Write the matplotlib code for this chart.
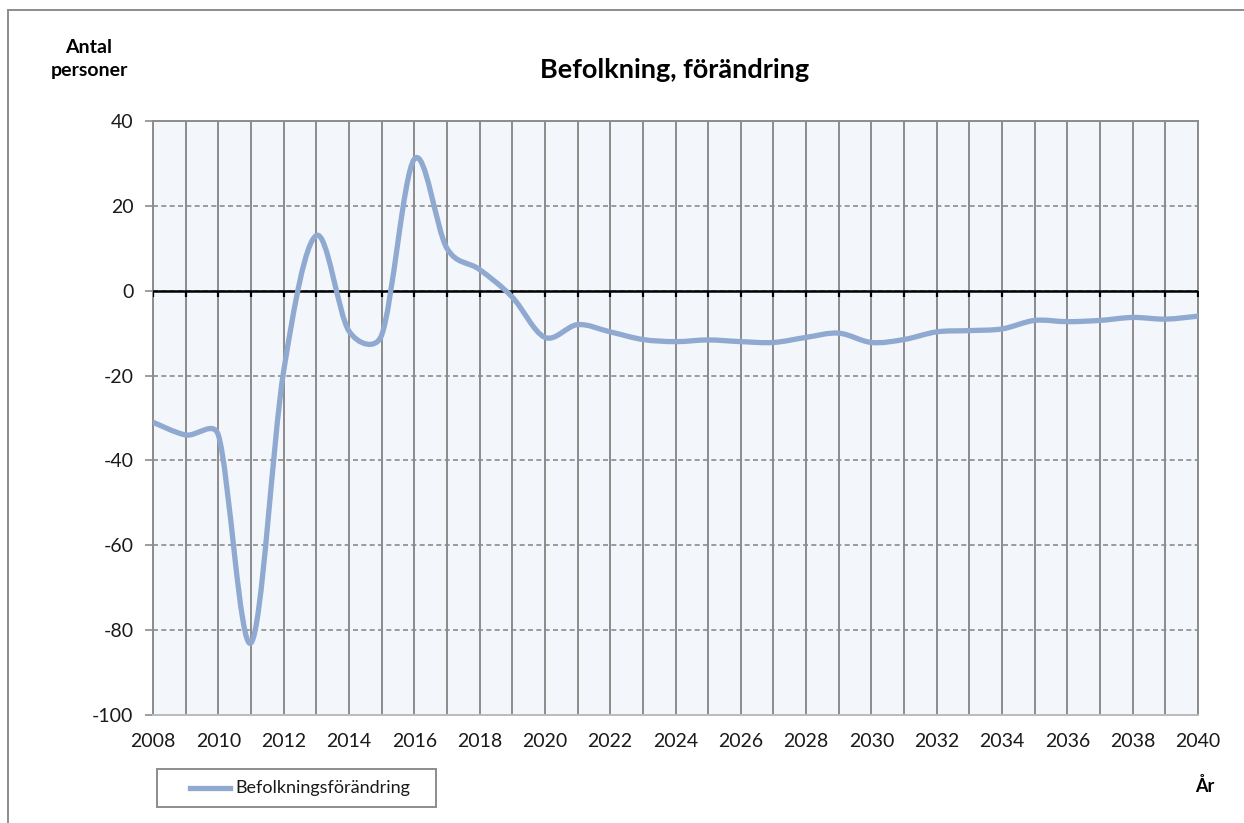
"""plot.py -- Befolkning, förändring (population change), smoothed line."""
import numpy as np
import matplotlib as mpl
mpl.use('Agg')
import matplotlib.pyplot as plt
from matplotlib.path import Path
from matplotlib.patches import PathPatch, Rectangle
from matplotlib.lines import Line2D
import matplotlib.markers as mmarkers

years = list(range(2008, 2041))
change = [-31, -34, -34, -83, -19, 13, -9.5, -10.5, 31, 10, 5, -1.5,
          -11, -8, -9.7, -11.5, -12, -11.6, -12, -12.2, -11, -10, -12.2,
          -11.5, -9.7, -9.4, -9, -7, -7.3, -7, -6.3, -6.7, -6]
yticks = [40, 20, 0, -20, -40, -60, -80, -100]
series_name = 'Befolkningsförändring'

LINE = '#8FA9D0'
GRID = '#8C8C8C'
TXT = '#1a1a1a'

mpl.rcParams['font.family'] = ['Lato', 'DejaVu Sans']
mpl.rcParams['axes.unicode_minus'] = False


def smooth_path(ax, x, y):
    # Excel-like smoothed line, built in screen space so arms can be capped
    pts = ax.transData.transform(np.column_stack([x, y]))
    n = len(pts)
    ext = np.vstack([pts[:1], pts, pts[-1:]])
    verts = [pts[0]]
    codes = [Path.MOVETO]
    for i in range(n - 1):
        a, b = pts[i], pts[i + 1]
        chord = np.hypot(*(b - a))
        t0 = (ext[i + 2] - ext[i]) / 6
        t1 = (ext[i + 3] - ext[i + 1]) / 6
        for t in (t0, t1):
            L = np.hypot(*t)
            if L > 0.5 * chord and L > 0:
                t *= 0.5 * chord / L
        verts += [a + t0, b - t1, b]
        codes += [Path.CURVE4] * 3
    verts = ax.transData.inverted().transform(np.array(verts))
    return Path(verts, codes)


def main():
    fig = plt.figure(figsize=(12.44, 8.23), dpi=100)
    ax = fig.add_axes([153 / 1244, 1 - 715 / 823, 1045 / 1244, 594 / 823])
    ax.set_facecolor('#F3F6FB')

    ax.set_xlim(years[0], years[-1])
    ax.set_ylim(yticks[-1], yticks[0])

    # vertical grid every year, labels every second
    ax.set_xticks(years)
    ax.set_xticklabels([str(y) if (y - years[0]) % 2 == 0 else '' for y in years])
    ax.tick_params(axis='x', length=0, pad=13, labelsize=14, labelcolor=TXT)
    ax.grid(axis='x', color=GRID, linestyle='-', linewidth=1.4)

    ax.set_yticks(yticks)
    ax.tick_params(axis='y', length=6, width=1.2, color=GRID, pad=8,
                   labelsize=14, labelcolor=TXT)
    ax.grid(axis='y', color=GRID, linestyle=(0, (3, 2)), linewidth=1.2)

    for s in ('left', 'top', 'right'):
        ax.spines[s].set_color(GRID)
        ax.spines[s].set_linewidth(1.4)
    ax.spines['bottom'].set_color('#BBBBBB')
    ax.spines['bottom'].set_linewidth(1.4)
    ax.set_axisbelow(True)

    # zero axis with a tick mark at every year
    ax.axhline(0, color='black', linewidth=1.8, zorder=3)
    ax.plot(years, [0] * len(years), linestyle='none', color='black',
            marker=mmarkers.TICKDOWN, markersize=4, markeredgewidth=1.6,
            zorder=3)

    ax.add_patch(PathPatch(smooth_path(ax, years, change), facecolor='none',
                           edgecolor=LINE, linewidth=3.8, capstyle='round',
                           joinstyle='round', zorder=5))

    fig.text(675 / 1244, 1 - 70 / 823, 'Befolkning, förändring', ha='center',
             va='center', fontsize=19.5, fontweight='bold')
    fig.text(89 / 1244, 1 - 59 / 823, 'Antal\npersoner', ha='center',
             va='center', fontsize=14, fontweight='bold', linespacing=1.45)
    fig.text(1205 / 1244, 1 - 786 / 823, 'År', ha='center', va='center',
             fontsize=13, fontweight='bold')

    # legend box, drawn by hand to match the reference size
    fig.add_artist(Rectangle((157 / 1244, 1 - 807 / 823), 279 / 1244, 38 / 823,
                             transform=fig.transFigure, facecolor='white',
                             edgecolor=GRID, linewidth=1.4))
    fig.add_artist(Line2D([190 / 1244, 230 / 1244], [1 - 788 / 823] * 2,
                          transform=fig.transFigure, color=LINE, linewidth=3.8))
    fig.text(235 / 1244, 1 - 788 / 823, series_name, ha='left', va='center',
             fontsize=13, color=TXT)

    # outer chart border (top and left only are visible)
    fig.add_artist(Line2D([8 / 1244, 8 / 1244], [0, 1 - 10 / 823],
                          transform=fig.transFigure, color=GRID, linewidth=1.4))
    fig.add_artist(Line2D([8 / 1244, 1], [1 - 10 / 823, 1 - 10 / 823],
                          transform=fig.transFigure, color=GRID, linewidth=1.4))

    fig.savefig('out.png', dpi=100)


if __name__ == '__main__':
    main()
